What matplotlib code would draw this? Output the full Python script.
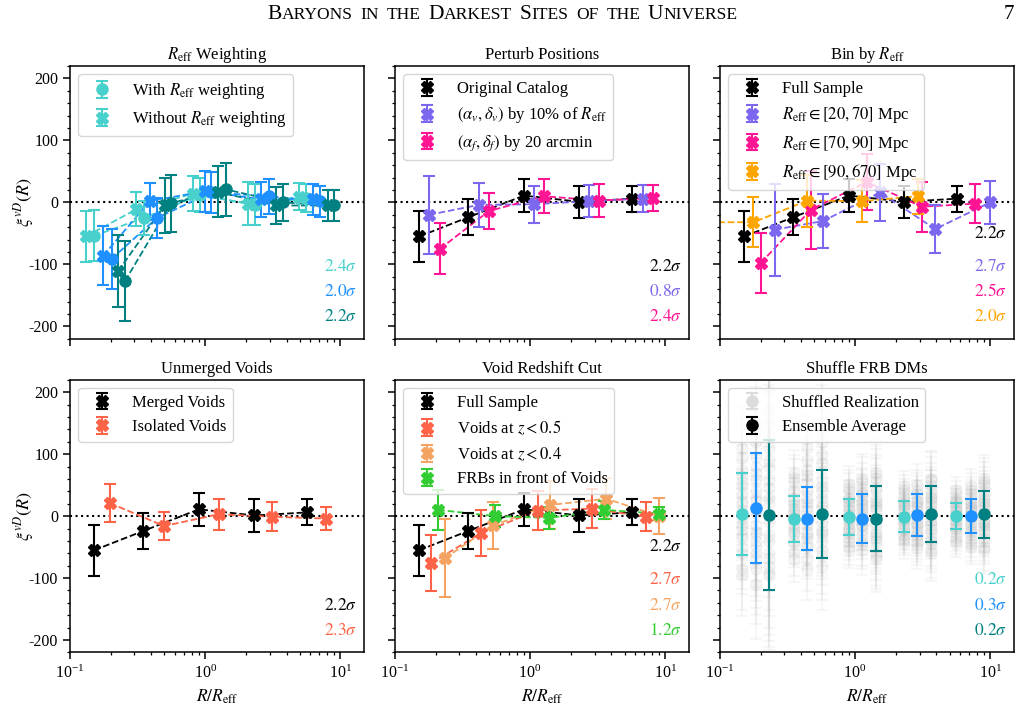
import numpy as np
import matplotlib
matplotlib.use('Agg')
import matplotlib.pyplot as plt
from matplotlib.ticker import MultipleLocator
from matplotlib.offsetbox import TextArea, HPacker, AnchoredOffsetbox

plt.rcParams['font.family'] = ['Liberation Serif', 'DejaVu Serif']
plt.rcParams['mathtext.fontset'] = 'stix'
plt.rcParams['axes.unicode_minus'] = False

# ---- data ----
# full sample / original catalog (black, shared by several panels)
x_full = [0.151, 0.348, 0.90, 2.31, 5.69]
y_full = [-55, -24, 11, 1, 6]
e_full = [41, 29, 27, 26, 21]

# panel 1: R_eff weighting (three bin offsets, with / without weighting)
x_turq_w = [0.150, 0.352, 0.91, 2.32, 5.58]
y_turq_w = [-54, -25, 12, -4, 7]
e_turq_w = [41, 28, 28, 33, 22]
x_turq_nw = [0.131, 0.31, 0.813, 2.07, 4.98]
y_turq_nw = [-55, -11, 14, -2, 9]
e_turq_nw = [41, 27, 28, 35, 22]
x_blue_w = [0.203, 0.441, 1.11, 2.96, 7.08]
y_blue_w = [-91, -25, 16, 10, 2]
e_blue_w = [48, 32, 33, 28, 25]
x_blue_nw = [0.176, 0.389, 0.99, 2.60, 6.25]
y_blue_nw = [-86, 2, 18, 5, 5]
e_blue_nw = [48, 30, 33, 28, 25]
x_teal_w = [0.255, 0.563, 1.42, 3.75, 9.04]
y_teal_w = [-127, -1, 21, 0, -5]
e_teal_w = [65, 46, 43, 30, 25]
x_teal_nw = [0.227, 0.502, 1.24, 3.35, 8.05]
y_teal_nw = [-111, -5, 17, -5, -5]
e_teal_nw = [58, 44, 41, 30, 25]
sig_p1 = ['2.4', '2.0', '2.2']

# panel 2: perturb positions
x_pv = [0.179, 0.417, 1.06, 2.72, 6.86]
y_pv = [-20, -4, -3, 2, 6]
e_pv = [63, 36, 30, 26, 22]
x_pf = [0.215, 0.495, 1.26, 3.23, 8.15]
y_pf = [-75, -14, 10, 3, 7]
e_pf = [41, 29, 27, 26, 21]
sig_p2 = ['2.2', '0.8', '2.4']

# panel 3: bin by R_eff
x_b1 = [0.255, 0.58, 1.53, 3.92, 10.0]
y_b1 = [-44, -30, 16, -43, 0]
e_b1 = [74, 43, 46, 39, 35]
x_b2 = [0.20, 0.47, 1.22, 3.12, 7.76]
y_b2 = [-98, -12, 33, -7, -2]
e_b2 = [48, 63, 45, 40, 32]
x_b3 = [0.07, 0.177, 0.444, 1.13, 2.90]
y_b3 = [-32, -32, 3, 2, 10]
e_b3 = [40, 40, 42, 34, 28]
sig_p3 = ['2.2', '2.7', '2.5', '2.0']

# panel 4: unmerged voids
x_iso = [0.197, 0.497, 1.26, 3.11, 7.83]
y_iso = [21, -16, 3, -1, -4]
e_iso = [30, 22, 25, 23, 18]
sig_p4 = ['2.2', '2.3']

# panel 5: void redshift cut
x_z5 = [0.185, 0.436, 1.14, 2.86, 7.16]
y_z5 = [-76, -27, 9, 12, -1]
e_z5 = [45, 37, 31, 31, 23]
x_z4 = [0.234, 0.531, 1.41, 3.66, 9.04]
y_z4 = [-68, -15, 18, 28, 0]
e_z4 = [63, 38, 38, 33, 29]
x_fr = [0.209, 0.547, 1.38, 3.55, 9.04]
y_fr = [10, 0, -3, 10, 4]
e_fr = [32, 18, 17, 14, 10]
sig_p5 = ['2.2', '2.7', '2.7', '1.2']

# panel 6: shuffled FRB DMs, ensemble averages
x_sh_turq = [0.145, 0.353, 0.905, 2.31, 5.62]
y_sh_turq = [3, -5, -1, -1, 0]
e_sh_turq = [66, 37, 29, 25, 21]
x_sh_blue = [0.184, 0.44, 1.12, 2.86, 7.2]
y_sh_blue = [13, -4, -4, 2, 0]
e_sh_blue = [89, 51, 40, 34, 28]
x_sh_teal = [0.232, 0.569, 1.42, 3.62, 8.96]
y_sh_teal = [2, 3, -4, 3, 3]
e_sh_teal = [121, 71, 53, 45, 38]
sig_p6 = ['0.2', '0.3', '0.2']

# individual shuffled realizations (approximate spread of the grey cloud)
real_turq = [[35, -18, 12, -9, 8], [-52, 25, -20, 14, -12], [10, 8, -5, 20, 5],
             [95, -45, 40, -30, 28], [-20, 12, 30, 5, -20], [-85, -5, -28, -22, 22],
             [48, 55, 8, 25, -5], [-35, -40, -12, -38, 18], [20, 18, 45, 10, -35],
             [-5, -22, -50, -12, 25], [65, 5, 18, 42, -40], [-60, -12, -20, -5, 10],
             [110, 70, -35, 30, 42], [0, -60, 22, -45, -8], [-30, 40, -8, 48, 35],
             [75, -28, 52, -20, -28], [-95, 30, 2, 18, 0], [25, -70, -42, -2, -45],
             [55, 62, 28, -35, 15], [-15, -2, -55, 35, -18]]
real_blue = [[-48, 22, -15, 18, -10], [60, -35, 28, -12, 14], [-15, -10, 10, -25, 20],
             [95, 40, -30, 25, -22], [25, -50, 5, 30, -5], [-85, 8, 38, -30, 25],
             [40, 75, -40, 8, -25], [-30, -25, 20, -5, 8], [120, 15, -8, 15, -15],
             [-60, -15, 25, -20, 30], [5, 30, -22, 35, -30], [-110, -45, 15, -15, 10],
             [70, 90, 55, -45, 42], [-25, -70, -55, 50, -45], [140, 55, 35, -40, 48],
             [-70, -30, -15, 5, -38], [30, 110, 60, -52, 0], [80, -5, -45, 40, 15],
             [-40, 65, 0, 22, -50], [10, -85, 45, -35, 35]]
real_teal = [[80, -30, 25, -20, 15], [-95, 48, -35, 30, -18], [30, 15, -12, 10, -28],
             [-80, -55, 45, -35, 30], [-40, 20, -50, -8, 35], [110, 60, 10, 40, -12],
             [-10, -65, 55, -45, 8], [60, 30, -25, 18, -40], [-70, -20, 30, 50, 20],
             [150, 100, -40, -25, -5], [-60, 40, 15, 22, 42], [20, -40, -60, -15, -22],
             [130, 150, 70, 60, 55], [-30, -80, -70, -55, -50], [90, 120, 40, 30, -55],
             [0, 5, -5, -60, 60], [170, 85, 62, 35, 25], [-90, -10, 20, -40, -35],
             [45, 140, -30, 58, 50], [200, -25, -65, 0, -10]]

TURQ = 'mediumturquoise'
BLUE = 'dodgerblue'
TEAL = 'teal'
SLATE = 'mediumslateblue'
PINK = 'deeppink'
ORANGE = 'orange'
TOMATO = 'tomato'
SANDY = 'sandybrown'
GREEN = 'limegreen'

fig, axes = plt.subplots(2, 3, figsize=(10.28, 7.09), dpi=100, sharex=True, sharey=True)
fig.subplots_adjust(left=0.0681, right=0.9864, bottom=0.0797, top=0.9069,
                    wspace=0.105, hspace=0.15)


def series(ax, x, y, e, color, marker='X', label=None, line=True):
    ax.errorbar(x, y, yerr=e, fmt=marker, color=color, ms=8, capsize=4,
                elinewidth=1.5, capthick=1.5, label=label, zorder=3)
    if line:
        ax.plot(x, y, '--', color=color, lw=1.3, zorder=2)


def sigmas(ax, labels, colors):
    ys = [0.265, 0.172, 0.08]
    if len(labels) == 4:
        ys = [0.385] + ys
    ys = ys[len(ys) - len(labels):]
    for s, c, yy in zip(labels, colors, ys):
        ax.text(0.975, yy, r'$%s\sigma$' % s, transform=ax.transAxes, ha='right',
                va='center', color=c, fontsize=12.5)


for ax in axes.flat:
    ax.set_xscale('log')
    ax.set_xlim(0.1, 15)
    ax.set_ylim(-220, 220)
    ax.yaxis.set_major_locator(MultipleLocator(100))
    ax.yaxis.set_minor_locator(MultipleLocator(20))
    ax.axhline(0, color='k', ls=':', lw=1.5, zorder=1)
    ax.tick_params(which='major', direction='out', length=5, width=1.1, labelsize=11.5)
    ax.tick_params(which='minor', direction='out', length=2.5, width=0.9)
    for sp in ax.spines.values():
        sp.set_linewidth(1.1)

# R_eff weighting
ax = axes[0, 0]
series(ax, x_turq_w, y_turq_w, e_turq_w, TURQ, 'o', r'With $R_{\rm eff}$ weighting')
series(ax, x_turq_nw, y_turq_nw, e_turq_nw, TURQ, 'X', r'Without $R_{\rm eff}$ weighting')
series(ax, x_blue_nw, y_blue_nw, e_blue_nw, BLUE, 'X')
series(ax, x_blue_w, y_blue_w, e_blue_w, BLUE, 'o')
series(ax, x_teal_nw, y_teal_nw, e_teal_nw, TEAL, 'X')
series(ax, x_teal_w, y_teal_w, e_teal_w, TEAL, 'o')
ax.set_title(r'$R_{\rm eff}$ Weighting', fontsize=12, pad=5)
ax.legend(loc='upper left', fontsize=12)
sigmas(ax, sig_p1, [TURQ, BLUE, TEAL])

# Perturb positions
ax = axes[0, 1]
series(ax, x_full, y_full, e_full, 'k', 'X', 'Original Catalog')
series(ax, x_pv, y_pv, e_pv, SLATE, 'X', r'$(\alpha_v, \delta_v)$ by 10% of $R_{\rm eff}$')
series(ax, x_pf, y_pf, e_pf, PINK, 'X', r'$(\alpha_f, \delta_f)$ by 20 arcmin')
ax.set_title('Perturb Positions', fontsize=12, pad=5)
ax.legend(loc='upper left', fontsize=12)
sigmas(ax, sig_p2, ['k', SLATE, PINK])

# Bin by R_eff
ax = axes[0, 2]
series(ax, x_full, y_full, e_full, 'k', 'X', 'Full Sample')
series(ax, x_b1, y_b1, e_b1, SLATE, 'X', r'$R_{\rm eff} \in [20, 70]$ Mpc')
series(ax, x_b2, y_b2, e_b2, PINK, 'X', r'$R_{\rm eff} \in [70, 90]$ Mpc')
series(ax, x_b3, y_b3, e_b3, ORANGE, 'X', r'$R_{\rm eff} \in [90, 670]$ Mpc')
ax.set_title(r'Bin by $R_{\rm eff}$', fontsize=12, pad=5)
ax.legend(loc='upper left', fontsize=12)
sigmas(ax, sig_p3, ['k', SLATE, PINK, ORANGE])

# Unmerged voids
ax = axes[1, 0]
series(ax, x_full, y_full, e_full, 'k', 'X', 'Merged Voids')
series(ax, x_iso, y_iso, e_iso, TOMATO, 'X', 'Isolated Voids')
ax.set_title('Unmerged Voids', fontsize=12, pad=5)
ax.legend(loc='upper left', fontsize=12)
sigmas(ax, sig_p4, ['k', TOMATO])

# Void redshift cut
ax = axes[1, 1]
series(ax, x_full, y_full, e_full, 'k', 'X', 'Full Sample')
series(ax, x_z5, y_z5, e_z5, TOMATO, 'X', r'Voids at $z < 0.5$')
series(ax, x_z4, y_z4, e_z4, SANDY, 'X', r'Voids at $z < 0.4$')
series(ax, x_fr, y_fr, e_fr, GREEN, 'X', 'FRBs in front of Voids')
ax.set_title('Void Redshift Cut', fontsize=12, pad=5)
ax.legend(loc='upper left', fontsize=12)
sigmas(ax, sig_p5, ['k', TOMATO, SANDY, GREEN])

# Shuffle FRB DMs
ax = axes[1, 2]
for xs, reals, es in [(x_sh_turq, real_turq, e_sh_turq),
                      (x_sh_blue, real_blue, e_sh_blue),
                      (x_sh_teal, real_teal, e_sh_teal)]:
    for r in reals:
        ax.errorbar(xs, r, yerr=es, fmt='o', color='darkgray', alpha=0.09, ms=8,
                    capsize=4, elinewidth=1.5, capthick=1.5, zorder=0)
series(ax, x_sh_turq, y_sh_turq, e_sh_turq, TURQ, 'o', line=False)
series(ax, x_sh_blue, y_sh_blue, e_sh_blue, BLUE, 'o', line=False)
series(ax, x_sh_teal, y_sh_teal, e_sh_teal, TEAL, 'o', line=False)
h1 = ax.errorbar([np.nan], [np.nan], yerr=[np.nan], fmt='o', color='gainsboro', ms=8,
                 capsize=4, elinewidth=1.5, capthick=1.5)
h2 = ax.errorbar([np.nan], [np.nan], yerr=[np.nan], fmt='o', color='k', ms=8,
                 capsize=4, elinewidth=1.5, capthick=1.5)
ax.legend([h1, h2], ['Shuffled Realization', 'Ensemble Average'], loc='upper left', fontsize=12)
ax.set_title('Shuffle FRB DMs', fontsize=12, pad=5)
sigmas(ax, sig_p6, [TURQ, BLUE, TEAL])

for ax in axes[:, 0]:
    ax.set_ylabel(r'$\xi^{vD}(R)$', fontsize=13)
    ax.yaxis.set_label_coords(-0.115, 0.5)
for ax in axes[1, :]:
    ax.set_xlabel(r'$R/R_{\rm eff}$', fontsize=12.5)

# running head in small caps
words = [('B', 'ARYONS'), ('', 'IN'), ('', 'THE'), ('D', 'ARKEST'), ('S', 'ITES'),
         ('', 'OF'), ('', 'THE'), ('U', 'NIVERSE')]
boxes = []
for big, small in words:
    parts = []
    if big:
        parts.append(TextArea(big, textprops=dict(fontsize=15.5)))
    parts.append(TextArea(small, textprops=dict(fontsize=12.6)))
    boxes.append(HPacker(children=parts, align='baseline', pad=0, sep=0))
head = HPacker(children=boxes, align='baseline', pad=0, sep=5.5)
fig.add_artist(AnchoredOffsetbox(loc='center', child=head, frameon=False, borderpad=0,
                                 bbox_to_anchor=(0.489, 0.980),
                                 bbox_transform=fig.transFigure))
fig.text(0.981, 0.980, '7', fontsize=15, ha='center', va='center')

fig.savefig('out.png', dpi=100)
